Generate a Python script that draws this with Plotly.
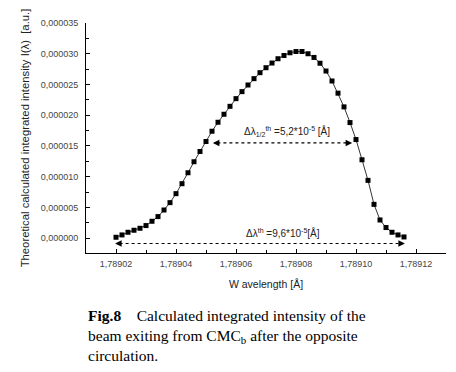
import plotly.graph_objects as go

# Wavelength [Å] and intensity (×1e-6 a.u.)
wavelength_start = 1.78902
wavelength_step = 0.000002
intensity_e6 = [0.16, 0.54, 0.97, 1.30, 1.62, 2.06, 2.76, 3.52, 4.59, 5.79,
                7.25, 8.87, 10.65, 12.44, 14.11, 15.73, 17.40, 18.86, 20.16, 21.45,
                22.70, 23.84, 24.92, 25.95, 26.92, 27.73, 28.49, 29.19, 29.72, 30.16,
                30.36, 30.36, 30.00, 29.40, 28.46, 27.19, 25.57, 23.59, 21.36, 18.81,
                16.05, 12.76, 9.41, 5.51, 2.97, 1.74, 0.97, 0.54, 0.21]
wavelength = [round(wavelength_start + i * wavelength_step, 7) for i in range(len(intensity_e6))]
intensity = [v * 1e-6 for v in intensity_e6]

x_ticks = [1.78902, 1.78904, 1.78906, 1.78908, 1.78910, 1.78912]
y_ticks = [0.0, 0.000005, 0.00001, 0.000015, 0.00002, 0.000025, 0.00003, 0.000035]

# width markers
half_x = [1.7890523, 1.7890987]
half_y = 15.5e-6
full_x = [1.7890197, 1.7891163]
full_y = -0.86e-6

fig = go.Figure()
fig.add_trace(go.Scatter(
    x=wavelength, y=intensity, mode="lines+markers",
    line=dict(color="black", width=0.8),
    marker=dict(symbol="square", size=5, color="black"),
    showlegend=False))

dotted = dict(color="black", width=1.1, dash="dot")
fig.add_shape(type="line", x0=half_x[0] + 0.0000015, x1=half_x[1] - 0.0000015, y0=half_y, y1=half_y, line=dotted)
fig.add_shape(type="line", x0=full_x[0] + 0.0000015, x1=full_x[1] - 0.0000015, y0=full_y, y1=full_y, line=dotted)

for (xs, yv) in [(half_x, half_y), (full_x, full_y)]:
    fig.add_annotation(x=xs[0], y=yv, ax=7, ay=0, showarrow=True, text="",
                       arrowhead=2, arrowsize=1, arrowwidth=1.3, arrowcolor="black")
    fig.add_annotation(x=xs[1], y=yv, ax=-7, ay=0, showarrow=True, text="",
                       arrowhead=2, arrowsize=1, arrowwidth=1.3, arrowcolor="black")

fig.add_annotation(x=1.789077, y=17.3e-6, showarrow=False,
                   text="Δλ<sub>1/2</sub><sup>th</sup> =5,2*10<sup>-5</sup> [Å]",
                   font=dict(family="Liberation Sans, Arial", size=10, color="#222"))
fig.add_annotation(x=1.7890755, y=0.9e-6, showarrow=False,
                   text="Δλ<sup>th</sup> =9,6*10<sup>-5</sup>[Å]",
                   font=dict(family="Liberation Sans, Arial", size=10, color="#222"))

fig.add_annotation(xref="paper", yref="paper", x=0.0, y=-0.225, xanchor="left", yanchor="top",
                   align="left", showarrow=False,
                   text="<b>Fig.8</b>&nbsp;&nbsp;&nbsp; Calculated integrated intensity of the<br>"
                        "beam exiting from CMC<sub>b</sub> after the opposite<br>circulation.",
                   font=dict(family="Liberation Serif, Times New Roman", size=15.5, color="black"))

fig.update_layout(
    width=448, height=364,
    margin=dict(l=78, r=10, t=15, b=119, autoexpand=False),
    paper_bgcolor="white", plot_bgcolor="white",
    separators=", ",
    font=dict(family="Liberation Sans, Arial", color="#333"),
)
fig.update_xaxes(
    range=[1.78901, 1.78913], tickvals=x_ticks, tickformat=".5f",
    ticks="inside", ticklen=4, tickcolor="black", automargin=False,
    minor=dict(ticks="inside", ticklen=3, dtick=0.00001, tick0=1.78901, tickcolor="black"),
    showline=True, linecolor="black", linewidth=1, showgrid=False, zeroline=False,
    tickfont=dict(size=9, color="#444"), ticklabelstandoff=2,
    title=dict(text="W avelength [Å]", font=dict(size=10.5, color="#222"), standoff=12),
)
fig.update_yaxes(
    range=[-2.4e-6, 0.000035], tickvals=y_ticks, tickformat=".6f",
    ticks="inside", ticklen=4, tickcolor="black", automargin=False,
    minor=dict(ticks="inside", ticklen=3, dtick=0.0000025, tick0=0, tickcolor="black"),
    showline=True, linecolor="black", linewidth=1, showgrid=False, zeroline=False,
    tickfont=dict(size=9, color="#444"), ticklabelstandoff=5,
    title=dict(text="Theoretical calculated integrated intensity I(λ)  [a.u.]",
               font=dict(size=11.3, color="#222"), standoff=8),
)

fig.write_html("out.html")
